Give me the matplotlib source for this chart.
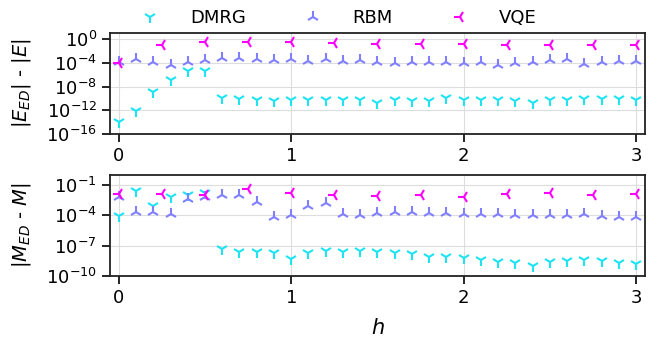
import numpy as np
import matplotlib
matplotlib.use("Agg")
import matplotlib.pyplot as plt

# h grid (DMRG / RBM) and coarser VQE grid
h = [0.0, 0.1, 0.2, 0.3, 0.4, 0.5, 0.6, 0.7, 0.8, 0.9,
     1.0, 1.1, 1.2, 1.3, 1.4, 1.5, 1.6, 1.7, 1.8, 1.9,
     2.0, 2.1, 2.2, 2.3, 2.4, 2.5, 2.6, 2.7, 2.8, 2.9, 3.0]
h_vqe = [0.0, 0.25, 0.5, 0.75, 1.0, 1.25, 1.5, 1.75, 2.0, 2.25, 2.5, 2.75, 3.0]

# log10 of |E_ED| - |E|
e_dmrg_log = [-14.0, -12.05, -9.0, -6.9, -5.33, -5.44, -9.94, -10.1, -10.3, -10.4,
              -10.3, -10.2, -10.3, -10.2, -10.3, -10.8, -10.2, -10.5, -10.5, -10.0,
              -10.2, -10.2, -10.3, -10.4, -10.8, -10.3, -10.2, -10.05, -10.1, -10.05, -10.3]
e_rbm_log = [-3.8, -3.44, -3.9, -4.3, -3.9, -3.6, -3.17, -3.17, -3.33, -3.55,
             -3.33, -3.7, -3.44, -3.7, -3.55, -3.9, -4.1, -3.83, -3.9, -3.9,
             -4.0, -3.8, -4.4, -4.0, -3.8, -3.55, -3.44, -4.2, -3.83, -3.67, -3.7]
e_vqe_log = [-4.1, -0.94, -0.55, -0.5, -0.55, -0.67, -0.78, -0.83, -0.9, -1.0, -0.94, -0.94, -1.05]

# log10 of |M_ED - M|
m_dmrg_log = [-4.03, -1.6, -3.03, -2.23, -2.03, -1.77, -7.37, -7.6, -7.63, -7.73,
              -8.3, -7.7, -7.57, -7.63, -7.5, -7.63, -7.73, -7.87, -8.13, -8.17,
              -8.27, -8.43, -8.6, -8.7, -9.03, -8.63, -8.53, -8.47, -8.53, -8.7, -8.87]
m_rbm_log = [-2.2, -3.7, -3.7, -3.87, -2.43, -2.2, -2.03, -2.03, -2.7, -4.13,
             -3.93, -3.03, -2.8, -3.87, -3.93, -3.77, -3.7, -3.63, -3.77, -3.77,
             -3.83, -3.87, -3.87, -3.93, -3.93, -3.93, -3.93, -3.87, -4.03, -4.13, -4.2]
m_vqe_log = [-1.87, -1.87, -2.03, -1.43, -1.77, -2.03, -2.13, -2.03, -2.2, -1.87, -1.77, -1.97, -1.87]

C_DMRG = "#1ee3f2"
C_RBM = "#8080ff"
C_VQE = "#ff00ff"
MS = 9

plt.rcParams["font.family"] = "DejaVu Sans"
plt.rcParams["mathtext.fontset"] = "dejavusans"

fig = plt.figure(figsize=(6.48, 3.41), dpi=100)
ax1 = fig.add_axes([0.170, 0.607, 0.825, 0.296])
ax2 = fig.add_axes([0.170, 0.191, 0.825, 0.296])

for ax, d, r, v in [(ax1, e_dmrg_log, e_rbm_log, e_vqe_log),
                    (ax2, m_dmrg_log, m_rbm_log, m_vqe_log)]:
    ax.plot(h, 10.0 ** np.array(d), ls="none", marker="1", ms=MS, mew=1.5,
            color=C_DMRG, label="DMRG")
    ax.plot(h, 10.0 ** np.array(r), ls="none", marker="2", ms=MS, mew=1.5,
            color=C_RBM, label="RBM")
    ax.plot(h_vqe, 10.0 ** np.array(v), ls="none", marker="3", ms=MS, mew=1.5,
            color=C_VQE, label="VQE")
    ax.set_yscale("log")
    ax.set_xlim(-0.05, 3.05)
    ax.set_xticks([0, 1, 2, 3])
    ax.grid(True, color="#dddddd", lw=0.8)
    ax.set_axisbelow(True)
    ax.tick_params(labelsize=13, length=6, width=1.2)
    for s in ax.spines.values():
        s.set_color("#222222")
        s.set_linewidth(1.3)

ax1.set_ylim(1e-16, 1e1)
ax1.set_yticks([1e0, 1e-4, 1e-8, 1e-12, 1e-16])
ax1.minorticks_off()
ax2.set_ylim(1e-10, 1e0)
ax2.set_yticks([1e-1, 1e-4, 1e-7, 1e-10])
ax2.minorticks_off()

ax1.set_ylabel(r"$|E_{ED}|$ - $|E|$", fontsize=14)
ax2.set_ylabel(r"$|M_{ED}$ - $M|$", fontsize=14)
ax1.yaxis.set_label_coords(-0.145, 0.5)
ax2.yaxis.set_label_coords(-0.145, 0.5)
ax2.set_xlabel(r"$h$", fontsize=15, labelpad=8)

ax1.legend(loc="lower center", bbox_to_anchor=(0.42, 0.97), ncol=3, frameon=False,
           fontsize=13, handletextpad=1.2, columnspacing=2.7, borderaxespad=0.1)

fig.savefig("out.png", dpi=100)
